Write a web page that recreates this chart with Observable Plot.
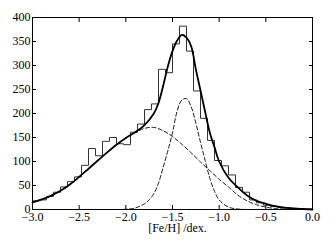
<!DOCTYPE html>
<html><head><meta charset="utf-8">
<script src="https://cdn.jsdelivr.net/npm/d3@7"></script>
<script src="https://cdn.jsdelivr.net/npm/@observablehq/plot@0.6"></script>
<style>html,body{margin:0;padding:0;background:#fff}</style>
</head><body><div id="chart"></div>
<script>
// Histogram bin edges ([Fe/H], dex) and counts per bin
const binEdges = [-3.000, -2.925, -2.850, -2.775, -2.700, -2.625, -2.550, -2.475, -2.400, -2.325,
  -2.250, -2.175, -2.100, -2.025, -1.950, -1.875, -1.800, -1.725, -1.650, -1.575,
  -1.500, -1.425, -1.350, -1.275, -1.200, -1.125, -1.050, -0.975, -0.900, -0.825,
  -0.750, -0.675, -0.600, -0.525, -0.450, -0.375, -0.300, -0.225, -0.150, -0.075, 0.000];
const binCounts = [18, 20, 27, 36, 47, 58, 68, 92, 127, 112,
  142, 150, 137, 135, 161, 178, 208, 220, 292, 285,
  345, 382, 330, 247, 190, 144, 102, 91, 72, 46,
  36, 20, 14, 9, 6, 4, 3, 2, 1, 1];

// Total model curve
const totalX = [-3.0, -2.9, -2.8, -2.7, -2.6, -2.5, -2.4, -2.3, -2.2, -2.1, -2.0, -1.9, -1.8, -1.7, -1.65, -1.6, -1.55, -1.5, -1.45, -1.4,
  -1.35, -1.3, -1.25, -1.2, -1.15, -1.1, -1.05, -1.0, -0.9, -0.8, -0.7, -0.6, -0.5, -0.4, -0.3, -0.2, -0.1, 0.0];
const totalY = [15, 21, 29, 39, 52, 68, 85, 102, 119, 135, 149, 161, 176, 200, 222, 258, 298, 330, 352, 364,
  358, 340, 292, 248, 203, 160, 130, 100, 66, 46, 29, 18, 12, 7, 4, 2.5, 1, 0];

// Broad (metal-poor) component, dashed
const broadX = [-3.0, -2.9, -2.8, -2.7, -2.6, -2.5, -2.4, -2.3, -2.2, -2.1, -2.0, -1.9, -1.8, -1.7, -1.6, -1.5, -1.4, -1.3, -1.2, -1.1,
  -1.0, -0.9, -0.8, -0.7, -0.6, -0.5, -0.4, -0.3, -0.2];
const broadY = [15, 21, 29, 39, 52, 68, 85, 102, 119, 135, 149, 160, 169, 171, 164, 152, 136, 118, 99, 81,
  63, 47, 30, 18, 10, 5, 2, 1, 0];

// Narrow (metal-rich) component, dashed
const narrowX = [-2.1, -2.0, -1.9, -1.8, -1.75, -1.7, -1.65, -1.6, -1.55, -1.5, -1.45, -1.4, -1.35, -1.3, -1.25, -1.2, -1.15, -1.1, -1.05, -1.0,
  -0.9, -0.8, -0.7];
const narrowY = [0, 0.5, 3, 12, 20, 33, 55, 88, 122, 160, 205, 228, 231, 214, 180, 140, 102, 65, 38, 20,
  5, 1, 0];

const xTicks = [-3.0, -2.5, -2.0, -1.5, -1.0, -0.5, 0.0];
const yTicks = [0, 50, 100, 150, 200, 250, 300, 350, 400];
const xLabel = "[Fe/H] /dex.";

const hist = binEdges.map((e, i) => ({x: e, y: binCounts[Math.min(i, binCounts.length - 1)]}));
const pts = (xs, ys) => xs.map((x, i) => ({x, y: ys[i]}));

const chart = Plot.plot({
  width: 332, height: 249,
  marginLeft: 32, marginRight: 20, marginTop: 17, marginBottom: 40,
  style: {fontFamily: "'Liberation Serif','Times New Roman',serif", fontSize: "12px", background: "#fff", color: "#000", overflow: "visible"},
  x: {domain: [-3, 0]},
  y: {domain: [0, 400]},
  marks: [
    Plot.line(hist, {x: "x", y: "y", curve: "step-after", stroke: "#333", strokeWidth: 1}),
    Plot.line(pts(broadX, broadY), {x: "x", y: "y", curve: "catmull-rom", stroke: "#000", strokeWidth: 0.9, strokeDasharray: "4,2.5"}),
    Plot.line(pts(narrowX, narrowY), {x: "x", y: "y", curve: "catmull-rom", stroke: "#000", strokeWidth: 0.9, strokeDasharray: "4,2.5"}),
    Plot.line(pts(totalX, totalY), {x: "x", y: "y", curve: "catmull-rom", stroke: "#000", strokeWidth: 1.8}),
    Plot.frame({stroke: "#000", strokeWidth: 1}),
    Plot.axisX({anchor: "bottom", ticks: xTicks, tickSize: 0, tickPadding: 3, tickFormat: d3.format(".1f"), label: null}),
    Plot.axisX({anchor: "bottom", ticks: xTicks, tickSize: -4, tickFormat: () => "", label: null}),
    Plot.axisX({anchor: "top", ticks: xTicks, tickSize: -4, tickFormat: () => "", label: null}),
    Plot.axisY({anchor: "left", ticks: yTicks, tickSize: 0, tickPadding: 2, label: null}),
    Plot.axisY({anchor: "left", ticks: yTicks, tickSize: -4, tickFormat: () => "", label: null}),
    Plot.axisY({anchor: "right", ticks: yTicks, tickSize: -4, tickFormat: () => "", label: null}),
    Plot.text([xLabel], {frameAnchor: "bottom", dy: 22, dx: 5, fontSize: 12})
  ]
});
document.getElementById("chart").appendChild(chart);
</script>
</body></html>
